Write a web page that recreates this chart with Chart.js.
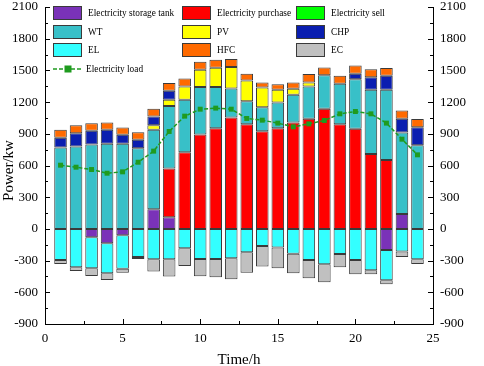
<!DOCTYPE html>
<html>
<head>
<meta charset="utf-8">
<script src="https://cdn.jsdelivr.net/npm/chart.js@4.4.0/dist/chart.umd.min.js"></script>
<style>
  html, body { margin: 0; padding: 0; background: #fff; }
  #wrap { width: 484px; height: 366px; }
</style>
</head>
<body>
<div id="wrap"><canvas id="chart" width="484" height="366"></canvas></div>
<script>
// Hourly values (kW)
const hours = [1, 2, 3, 4, 5, 6, 7, 8, 9, 10, 11, 12, 13, 14, 15, 16, 17, 18, 19, 20, 21, 22, 23, 24];
const storageTank = [0, 0, -79, -136, -60, 0, 186, 110, 0, 0, 0, 0, 0, 0, 0, 0, 0, 0, 0, 0, 0, -199, 142, 0];
const purchase = [0, 0, 0, 0, 0, 0, 0, 461, 726, 893, 953, 1054, 991, 925, 953, 1007, 1042, 1137, 991, 947, 710, 653, 0, 0];
const sell = [0, 0, 0, 0, 0, 0, 0, 0, 0, 0, 0, 0, 0, 0, 0, 0, 0, 0, 0, 0, 0, 0, 0, 0];
const wt = [770, 780, 799, 805, 805, 764, 752, 591, 496, 449, 389, 275, 218, 227, 243, 262, 306, 318, 382, 470, 606, 663, 770, 792];
const pv = [0, 0, 0, 0, 0, 0, 44, 60, 126, 164, 183, 202, 196, 187, 121, 57, 38, 0, 0, 0, 0, 0, 0, 0];
const chp = [92, 126, 129, 133, 85, 79, 82, 85, 0, 0, 0, 0, 0, 0, 0, 0, 0, 0, 0, 51, 120, 133, 130, 171];
const el = [-294, -363, -294, -284, -316, -265, -287, -287, -183, -284, -284, -278, -221, -161, -177, -234, -294, -335, -237, -294, -391, -287, -215, -287];
const hfc = [76, 76, 73, 69, 70, 72, 72, 73, 76, 76, 76, 76, 63, 47, 53, 60, 79, 73, 76, 79, 76, 73, 79, 76];
const ec = [-37, -35, -72, -63, -38, -19, -117, -164, -167, -164, -174, -199, -193, -196, -196, -186, -173, -170, -126, -135, -38, -38, -50, -44];
const load = [603, 584, 562, 527, 540, 631, 736, 922, 1067, 1133, 1143, 1133, 1045, 1029, 1001, 966, 994, 1026, 1089, 1111, 1089, 1001, 849, 701];

const yTicks = { min: -900, max: 2100, step: 300 };
const xTicks = { min: 0, max: 25, step: 5 };
const xTitle = 'Time/h';
const yTitle = 'Power/kw';

const FONT = "'Liberation Serif', 'Times New Roman', serif";
const EDGE = '#3a3a3a';
const LOAD_GREEN = '#1f9b1f';

// legend layout: 3 columns, rows of bar series, then the load line
const legendItems = [
    { label: 'Electricity storage tank', color: '#7a32b8', col: 0, row: 0 },
    { label: 'Electricity purchase', color: '#ff0000', col: 1, row: 0 },
    { label: 'Electricity sell', color: '#00ff00', col: 2, row: 0 },
    { label: 'WT', color: '#38c0c8', col: 0, row: 1 },
    { label: 'PV', color: '#ffff00', col: 1, row: 1 },
    { label: 'CHP', color: '#0a1eb0', col: 2, row: 1 },
    { label: 'EL', color: '#33ffff', col: 0, row: 2 },
    { label: 'HFC', color: '#ff6a00', col: 1, row: 2 },
    { label: 'EC', color: '#c0c0c0', col: 2, row: 2 }
];

function barSet(label, data, color) {
    return {
        type: 'bar',
        label: label,
        data: data,
        backgroundColor: color,
        borderColor: EDGE,
        borderWidth: 1,
        borderSkipped: false,
        barPercentage: 0.9,
        categoryPercentage: 0.9
    };
}

const colorOf = l => legendItems.find(d => d.label === l).color;

// inward ticks on left, right and bottom axes, with minor ticks between
const innerTicks = {
    id: 'innerTicks',
    afterDraw(chart) {
        const ctx = chart.ctx;
        const a = chart.chartArea;
        const y = chart.scales.y;
        const x = chart.scales.x;
        ctx.save();
        ctx.strokeStyle = '#000';
        ctx.lineWidth = 1;
        ctx.beginPath();
        for (let v = yTicks.min; v <= yTicks.max; v += yTicks.step / 2) {
            const py = Math.round(y.getPixelForValue(v)) + 0.5;
            const len = (v % yTicks.step === 0) ? 5 : 3;
            ctx.moveTo(a.left, py); ctx.lineTo(a.left + len, py);
            ctx.moveTo(a.right, py); ctx.lineTo(a.right - len, py);
        }
        for (let v = xTicks.min; v <= xTicks.max; v += xTicks.step / 2) {
            const px = Math.round(x.getPixelForValue(v)) + 0.5;
            const len = (v % xTicks.step === 0) ? 5 : 3;
            ctx.moveTo(px, a.bottom); ctx.lineTo(px, a.bottom - len);
        }
        ctx.stroke();
        ctx.restore();
    }
};

// axis titles in a plain (not bold) serif face
const axisTitles = {
    id: 'axisTitles',
    afterDraw(chart) {
        const ctx = chart.ctx;
        const a = chart.chartArea;
        ctx.save();
        ctx.font = '15px ' + FONT;
        ctx.fillStyle = '#000';
        ctx.textAlign = 'center';
        ctx.textBaseline = 'alphabetic';
        ctx.fillText(xTitle, (a.left + a.right) / 2, 364);
        ctx.translate(13, (a.top + a.bottom) / 2 + 5);
        ctx.rotate(-Math.PI / 2);
        ctx.fillText(yTitle, 0, 0);
        ctx.restore();
    }
};

// legend drawn inside the plot area, top-left
const insideLegend = {
    id: 'insideLegend',
    afterDraw(chart) {
        const ctx = chart.ctx;
        const colX = [53, 182, 296];
        const rowY = [13, 32, 50];
        ctx.save();
        ctx.font = '9.3px ' + FONT;
        ctx.textBaseline = 'middle';
        ctx.fillStyle = '#000';
        legendItems.forEach(it => {
            const bx = colX[it.col], cy = rowY[it.row];
            ctx.fillStyle = it.color;
            ctx.fillRect(bx, cy - 7, 29, 14);
            ctx.strokeStyle = EDGE;
            ctx.lineWidth = 1;
            ctx.strokeRect(bx + 0.5, cy - 6.5, 28, 13);
            ctx.fillStyle = '#000';
            ctx.fillText(it.label, bx + 35, cy + 1);
        });
        // load line entry
        const ly = 69;
        ctx.strokeStyle = LOAD_GREEN;
        ctx.lineWidth = 1.5;
        ctx.setLineDash([4, 2]);
        ctx.beginPath();
        ctx.moveTo(53, ly); ctx.lineTo(82, ly);
        ctx.stroke();
        ctx.setLineDash([]);
        ctx.fillStyle = LOAD_GREEN;
        ctx.fillRect(64.5, ly - 3.5, 7, 7);
        ctx.fillStyle = '#000';
        ctx.fillText('Electricity load', 86, ly + 1);
        ctx.restore();
    }
};

const plainTick = v => String(v);

// fixed axis sizes so the plot box sits where the original one does
function fixVertical(width) {
    return s => {
        s.width = width;
        s.paddingTop = 7;
        s.paddingBottom = 7;
    };
}

const ctx = document.getElementById('chart').getContext('2d');
new Chart(ctx, {
    data: {
        labels: hours,
        datasets: [
            {
                type: 'line',
                label: 'Electricity load',
                data: load,
                stack: 'load',
                borderColor: LOAD_GREEN,
                borderWidth: 1.5,
                borderDash: [4, 2],
                tension: 0,
                pointStyle: 'rect',
                pointRadius: 3.5,
                pointBackgroundColor: LOAD_GREEN,
                pointBorderColor: LOAD_GREEN,
                pointBorderWidth: 0,
                fill: false
            },
            barSet('Electricity storage tank', storageTank, colorOf('Electricity storage tank')),
            barSet('Electricity purchase', purchase, colorOf('Electricity purchase')),
            barSet('Electricity sell', sell, colorOf('Electricity sell')),
            barSet('WT', wt, colorOf('WT')),
            barSet('PV', pv, colorOf('PV')),
            barSet('CHP', chp, colorOf('CHP')),
            barSet('EL', el, colorOf('EL')),
            barSet('HFC', hfc, colorOf('HFC')),
            barSet('EC', ec, colorOf('EC'))
        ]
    },
    options: {
        responsive: false,
        devicePixelRatio: 1,
        animation: false,
        layout: { padding: { top: 0, left: 0, right: 0, bottom: 0 } },
        plugins: {
            legend: { display: false },
            tooltip: { enabled: false }
        },
        scales: {
            x: {
                type: 'linear',
                stacked: true,
                offset: false,
                min: xTicks.min,
                max: xTicks.max,
                grid: { display: false, drawTicks: false, offset: false },
                border: { display: true, color: '#000', width: 1 },
                ticks: { stepSize: xTicks.step, padding: 7, color: '#000', font: { family: FONT, size: 13 }, callback: plainTick },
                afterFit: s => { s.height = 42; }
            },
            y: {
                position: 'left',
                stacked: true,
                min: yTicks.min,
                max: yTicks.max,
                grid: { display: false, drawTicks: false },
                border: { display: true, color: '#000', width: 1 },
                ticks: { stepSize: yTicks.step, padding: 7, color: '#000', font: { family: FONT, size: 13 }, callback: plainTick },
                afterFit: fixVertical(45)
            },
            y2: {
                position: 'right',
                min: yTicks.min,
                max: yTicks.max,
                grid: { display: false, drawTicks: false },
                border: { display: true, color: '#000', width: 1 },
                ticks: { stepSize: yTicks.step, padding: 7, color: '#000', font: { family: FONT, size: 13 }, callback: plainTick },
                afterFit: fixVertical(51)
            }
        }
    },
    plugins: [innerTicks, axisTitles, insideLegend]
});
</script>
</body>
</html>
